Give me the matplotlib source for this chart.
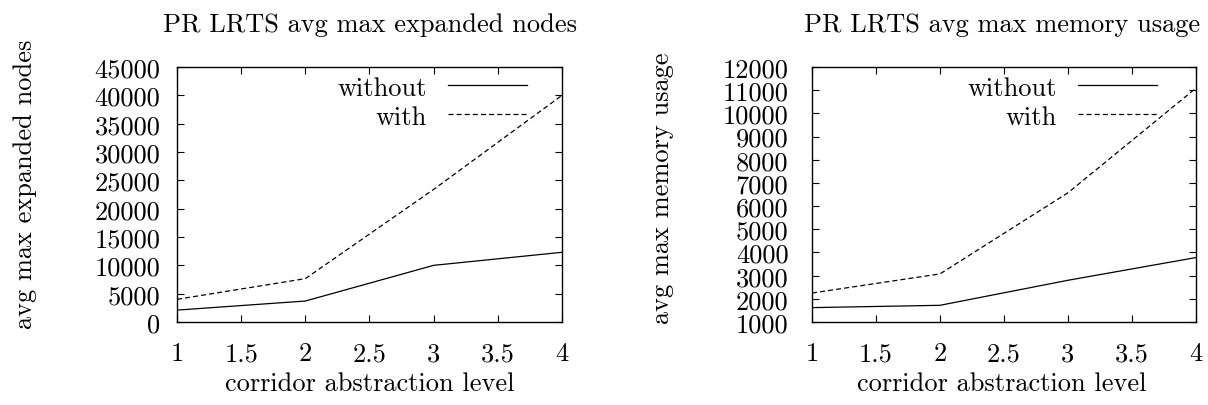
import matplotlib
matplotlib.use("Agg")
import matplotlib.pyplot as plt

levels = [1, 2, 3, 4]
nodes_without = [2100, 3700, 10000, 12300]
nodes_with = [4000, 7650, 23400, 40000]
mem_without = [1620, 1720, 2800, 3780]
mem_with = [2250, 3075, 6575, 11090]

plt.rcParams['font.family'] = ['cmr10', 'DejaVu Serif']
plt.rcParams['axes.formatter.use_mathtext'] = True
FS = 19

W, H = 1208, 406
fig = plt.figure(figsize=(W / 100, H / 100), dpi=100)

def box(x0, y0, x1, y1):
    return [x0 / W, 1 - y1 / H, (x1 - x0) / W, (y1 - y0) / H]

def panel(rect, yw, yo, ylim, yticks, title, ylabel, tpos, ylpos, xlpos, ypad, legx):
    ax = fig.add_axes(box(*rect))
    ax.plot(levels, yw, color='black', lw=0.9, ls='-', label='without')
    ax.plot(levels, yo, color='black', lw=0.9, ls=(0, (4, 2.5)), label='with')
    ax.set_xlim(1, 4)
    ax.set_ylim(*ylim)
    ax.set_xticks([1, 1.5, 2, 2.5, 3, 3.5, 4])
    ax.set_xticklabels(['1', '1.5', '2', '2.5', '3', '3.5', '4'])
    ax.set_yticks(yticks)
    ax.set_yticklabels([str(v) for v in yticks])
    ax.tick_params(direction='in', length=5, width=0.8, top=True, right=True,
                   labelsize=FS)
    ax.tick_params(axis='y', pad=ypad)
    ax.tick_params(axis='x', pad=14)
    for s in ax.spines.values():
        s.set_linewidth(1.0)
    ax.legend(loc='upper right', frameon=False, markerfirst=False,
              fontsize=FS, handlelength=3.0, handletextpad=0.8,
              labelspacing=0.2, borderaxespad=0.0, borderpad=0.0,
              bbox_to_anchor=(legx, 0.965))
    fig.text(tpos[0] / W, 1 - tpos[1] / H, title, ha='center', va='center', fontsize=FS)
    fig.text(ylpos[0] / W, 1 - ylpos[1] / H, ylabel, ha='center', va='center',
             rotation=90, fontsize=FS)
    fig.text(xlpos[0] / W, 1 - xlpos[1] / H, 'corridor abstraction level',
             ha='center', va='center', fontsize=FS)
    return ax

panel((177, 68, 562, 323), nodes_without, nodes_with, (0, 45000),
      list(range(0, 45001, 5000)), 'PR LRTS avg max expanded nodes',
      'avg max expanded nodes', (370, 25), (25, 184), (370, 384), 12, 0.909)
panel((812, 68, 1196, 323), mem_without, mem_with, (1000, 12000),
      list(range(1000, 12001, 1000)), 'PR LRTS avg max memory usage',
      'avg max memory usage', (1002, 25), (662, 188), (1002, 384), 17, 0.899)

fig.savefig('out.png', dpi=100)
